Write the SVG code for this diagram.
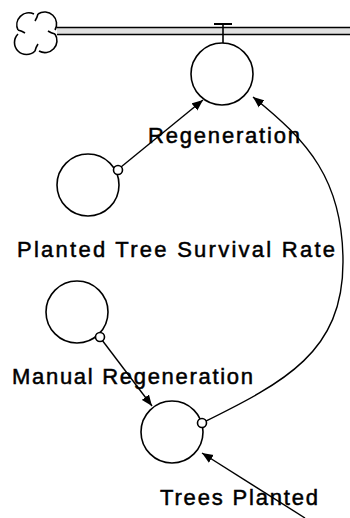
<svg xmlns="http://www.w3.org/2000/svg" width="350" height="518" viewBox="0 0 350 518">
<style>
.n{fill:none;stroke:#000;stroke-width:1.6}
.c{fill:#fff;stroke:#000;stroke-width:1.6}
.l{fill:none;stroke:#000;stroke-width:1.4}
.t{font-family:"Liberation Sans",Arial,sans-serif;font-size:22px;fill:#000;stroke:#000;stroke-width:0.5}
</style>
<defs>
<marker id="ah" markerUnits="userSpaceOnUse" markerWidth="12" markerHeight="10" refX="11" refY="5" orient="auto">
<path d="M0,0.5 L11,5 L0,9.5 Z" fill="#000"/>
</marker>
</defs>
<rect width="350" height="518" fill="#fff"/>
<g id="cloud">
<path class="n" d="M38,14 A12,12 0 0 1 55,30 M55,34 A12,12 0 0 1 39,51 M35,51 A12,12 0 0 1 18,34 M18,30 A12,12 0 0 1 34,14 M38,14 Q37,18 35,21 M55,34 Q51,33 48,31 M35,51 Q36,47 38,44 M18,30 Q22,31 25,33"/>
</g>
<g id="flow">
<rect x="57" y="28" width="293" height="6" fill="#e0e0e0"/>
<line x1="57" y1="27.5" x2="350" y2="27.5" stroke="#000" stroke-width="1.4"/>
<line x1="57" y1="34.5" x2="350" y2="34.5" stroke="#000" stroke-width="1.4"/>
<line x1="214" y1="24" x2="232" y2="24" stroke="#000" stroke-width="2"/>
<line x1="223" y1="24" x2="223" y2="43" stroke="#000" stroke-width="1.6"/>
</g>
<g id="connectors">
<path class="l" d="M121,167 L203,100" marker-end="url(#ah)"/>
<path class="l" d="M102,340 L152,406" marker-end="url(#ah)"/>
<path class="l" d="M305,518 L202,453" marker-end="url(#ah)"/>
<path class="l" d="M202,423 C285,382 343,352 343,262 C343,180 308,141 253,97" marker-end="url(#ah)"/>
</g>
<g id="regeneration">
<circle class="c" cx="222" cy="74" r="31"/>
<text class="t" x="148" y="143" textLength="152">Regeneration</text>
</g>
<g id="planted-tree-survival-rate">
<circle class="c" cx="88" cy="185" r="31"/>
<text class="t" x="17" y="257" textLength="318">Planted Tree Survival Rate</text>
</g>
<g id="manual-regeneration">
<circle class="c" cx="77" cy="312" r="31"/>
<text class="t" x="12" y="384" textLength="241">Manual Regeneration</text>
</g>
<g id="trees-planted">
<circle class="c" cx="172" cy="432" r="31"/>
<text class="t" x="160" y="505" textLength="158">Trees Planted</text>
</g>
<g id="connector-dots">
<circle class="c" cx="118" cy="170" r="4.5"/>
<circle class="c" cx="100" cy="337" r="4.5"/>
<circle class="c" cx="202" cy="423" r="4.5"/>
</g>
</svg>
